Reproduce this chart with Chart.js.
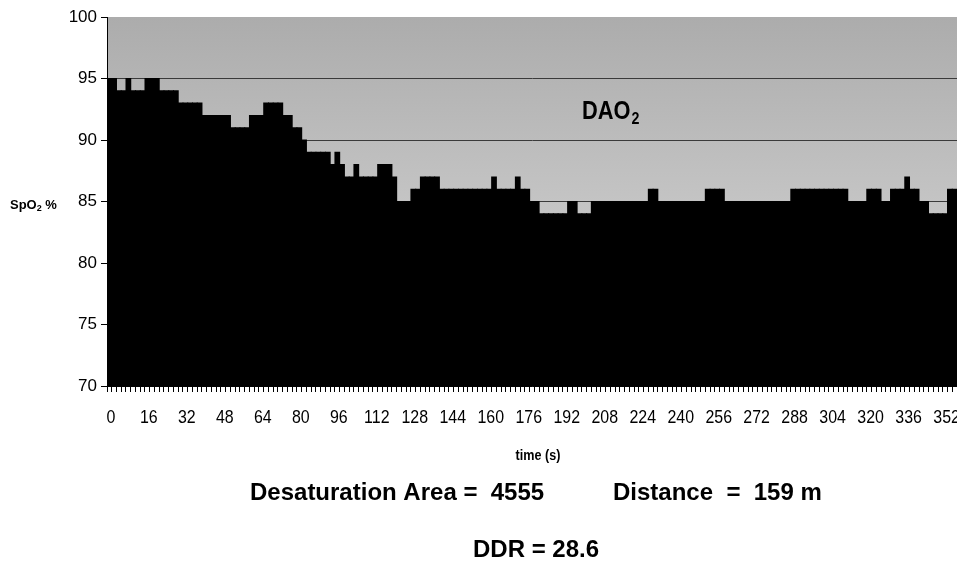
<!DOCTYPE html>
<html>
<head>
<meta charset="utf-8">
<script src="https://cdn.jsdelivr.net/npm/chart.js@4.4.1/dist/chart.umd.min.js"></script>
<style>
  html, body { margin: 0; padding: 0; background: #fff; }
  #wrap { position: relative; width: 957px; height: 562px; }
</style>
</head>
<body>
<div id="wrap"><canvas id="spo2Chart"></canvas></div>
<script>
// time in seconds, one sample every 2 s
const timeSec = Array.from({ length: 179 }, (_, i) => i * 2);

// SpO2 (%)
const spo2 = [
  95, 95, 94, 94, 95, 94, 94, 94, 95, 95,
  95, 94, 94, 94, 94, 93, 93, 93, 93, 93,
  92, 92, 92, 92, 92, 92, 91, 91, 91, 91,
  92, 92, 92, 93, 93, 93, 93, 92, 92, 91,
  91, 90, 89, 89, 89, 89, 89, 88, 89, 88,
  87, 87, 88, 87, 87, 87, 87, 88, 88, 88,
  87, 85, 85, 85, 86, 86, 87, 87, 87, 87,
  86, 86, 86, 86, 86, 86, 86, 86, 86, 86,
  86, 87, 86, 86, 86, 86, 87, 86, 86, 85,
  85, 84, 84, 84, 84, 84, 84, 85, 85, 84,
  84, 84, 85, 85, 85, 85, 85, 85, 85, 85,
  85, 85, 85, 85, 86, 86, 85, 85, 85, 85,
  85, 85, 85, 85, 85, 85, 86, 86, 86, 86,
  85, 85, 85, 85, 85, 85, 85, 85, 85, 85,
  85, 85, 85, 85, 86, 86, 86, 86, 86, 86,
  86, 86, 86, 86, 86, 86, 85, 85, 85, 85,
  86, 86, 86, 85, 85, 86, 86, 86, 87, 86,
  86, 85, 85, 84, 84, 84, 84, 86, 86
];

// labelled categories on the time axis
const xTickLabels = [0, 16, 32, 48, 64, 80, 96, 112, 128, 144, 160, 176, 192, 208,
  224, 240, 256, 272, 288, 304, 320, 336, 352];
const yMin = 70, yMax = 100, yStep = 5;

const bottomText = {
  area: 'Desaturation Area =  4555',
  distance: 'Distance  =  159 m',
  ddr: 'DDR = 28.6',
  xTitle: 'time (s)'
};

// text squeezed sideways, to look like Arial Narrow
function narrowText(ctx, txt, x, y, sx, align) {
  ctx.save();
  ctx.translate(x, y);
  ctx.scale(sx, 1);
  ctx.textAlign = align;
  ctx.fillText(txt, 0, 0);
  ctx.restore();
}

// grey backdrop of the plot area
const backdrop = {
  id: 'backdrop',
  beforeDraw(chart) {
    const { ctx, chartArea: a } = chart;
    const g = ctx.createLinearGradient(0, a.top, 0, a.bottom);
    g.addColorStop(0, '#acacac');
    g.addColorStop(0.5, '#c4c4c4');
    g.addColorStop(1, '#d2d2d2');
    ctx.save();
    ctx.fillStyle = g;
    ctx.fillRect(a.left, a.top, a.right - a.left, a.bottom - a.top);
    ctx.restore();
  }
};

// texts Excel put around the chart
const labels = {
  id: 'labels',
  afterDraw(chart) {
    const ctx = chart.ctx;
    const xs = chart.scales.x;
    ctx.save();
    ctx.fillStyle = '#000';
    ctx.textBaseline = 'alphabetic';

    // category labels of the time axis
    ctx.font = '19px "Liberation Sans", sans-serif';
    xTickLabels.forEach(t => {
      const i = timeSec.indexOf(t);
      narrowText(ctx, String(t), xs.getPixelForValue(i) + 1.5, 423, 0.84, 'center');
    });

    // DAO2 inside the plot
    ctx.font = 'bold 26px "Liberation Sans", sans-serif';
    const w = ctx.measureText('DAO').width * 0.84;
    narrowText(ctx, 'DAO', 582, 119, 0.84, 'left');
    ctx.font = 'bold 17px "Liberation Sans", sans-serif';
    narrowText(ctx, '2', 582 + w + 1, 124, 0.84, 'left');

    // y axis title, horizontal
    ctx.textAlign = 'left';
    ctx.font = 'bold 13px "Liberation Sans", sans-serif';
    ctx.fillText('SpO', 10, 209);
    let x = 10 + ctx.measureText('SpO').width;
    ctx.font = 'bold 9px "Liberation Sans", sans-serif';
    ctx.fillText('2', x, 211);
    x += ctx.measureText('2').width;
    ctx.font = 'bold 13px "Liberation Sans", sans-serif';
    ctx.fillText(' %', x, 209);

    // x axis title
    ctx.font = 'bold 15px "Liberation Sans", sans-serif';
    narrowText(ctx, bottomText.xTitle, 538, 460, 0.84, 'center');

    ctx.font = 'bold 24px "Liberation Sans", sans-serif';
    ctx.textAlign = 'left';
    ctx.fillText(bottomText.area, 250, 500);
    ctx.fillText(bottomText.distance, 613, 500);
    ctx.textAlign = 'center';
    ctx.fillText(bottomText.ddr, 536, 557);
    ctx.restore();
  }
};

const ctx = document.getElementById('spo2Chart').getContext('2d');
const spo2Chart = new Chart(ctx, {
  type: 'bar',
  data: {
    labels: timeSec,
    datasets: [{
      label: 'SpO2',
      data: spo2,
      base: yMin,
      backgroundColor: '#000',
      borderWidth: 0,
      inflateAmount: 0.5,
      categoryPercentage: 1,
      barPercentage: 1
    }]
  },
  options: {
    responsive: true,
    maintainAspectRatio: false,
    animation: false,
    layout: { padding: { top: 17, left: 0, right: 0, bottom: 0 } },
    plugins: { legend: { display: false }, tooltip: { enabled: false } },
    scales: {
      x: {
        grid: { display: true, drawOnChartArea: false, drawTicks: true, tickLength: 6, tickColor: '#000', offset: true },
        border: { display: true, color: '#000', width: 1 },
        ticks: { display: false, autoSkip: false, maxRotation: 0 },
        afterFit(scale) {
          scale.height = 176;
          scale.paddingLeft = 0;
          scale.paddingRight = 0;
        }
      },
      y: {
        min: yMin,
        max: yMax,
        grid: {
          color: c => (c.tick && c.tick.value === yMax ? 'rgba(0,0,0,0)' : '#3a3a3a'),
          tickColor: '#000',
          tickLength: 6,
          lineWidth: 1
        },
        border: { display: true, color: '#000', width: 1 },
        ticks: {
          stepSize: yStep,
          padding: 4,
          color: '#000',
          font: { family: '"Liberation Sans", sans-serif', size: 17 }
        },
        afterFit(scale) {
          scale.width = 107;
          scale.paddingTop = 0;
          scale.paddingBottom = 0;
        }
      }
    }
  },
  plugins: [backdrop, labels]
});
</script>
</body>
</html>
